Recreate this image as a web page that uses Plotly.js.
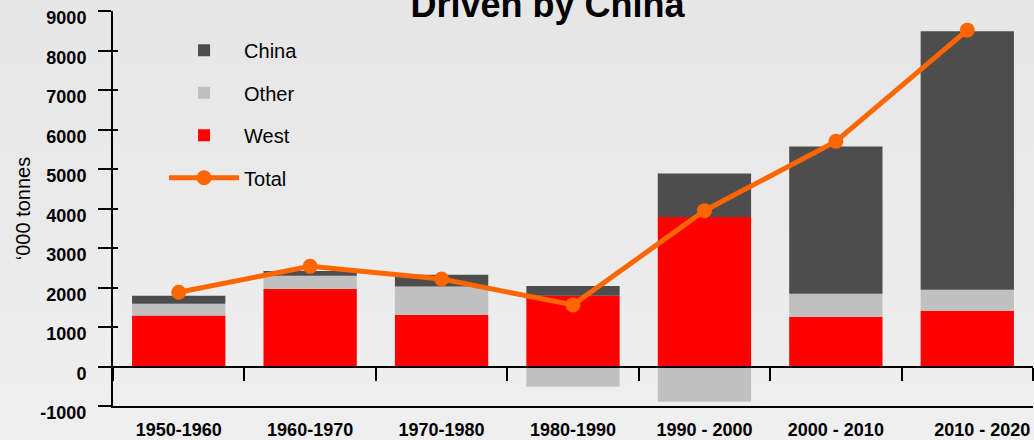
<!DOCTYPE html>
<html>
<head>
<meta charset="utf-8">
<script src="https://cdn.plot.ly/plotly-3.0.1.min.js"></script>
<style>
  html, body { margin: 0; padding: 0; }
  body { width: 1034px; height: 440px; overflow: hidden;
         background: linear-gradient(to bottom, #e6e6e6 0%, #eaeaea 50%, #efefef 100%); }
  #chart { width: 1034px; height: 440px; }
</style>
</head>
<body>
<div id="chart"></div>
<script>
// ---- data ----
const categories = ["1950-1960", "1960-1970", "1970-1980", "1980-1990", "1990 - 2000", "2000 - 2010", "2010 - 2020"];
const tickLabels = ["1950-1960", "1960-1970", "1970-1980", "1980-1990", "1990 - 2000", "2000 - 2010", "\u00a0\u00a0\u00a0\u00a0\u00a0\u00a02010 - 2020"];
const yTickVals = [-1000, 0, 1000, 2000, 3000, 4000, 5000, 6000, 7000, 8000, 9000];
const yTickText = ["-1000", "0", "1000", "2000", "3000", "4000", "5000", "6000", "7000", "8000", "9000"];
const west  = [1290, 1965, 1310, 1790, 3785, 1260, 1410];
const other = [300, 335, 715, -510, -890, 580, 530];
const china = [200, 120, 295, 250, 1100, 3730, 6550];
const total = [1880, 2535, 2215, 1560, 3945, 5700, 8515];

const colors = { china: "#4d4d4d", other: "#c0c0c0", west: "#ff0000", total: "#ff6600" };
const FONT = "Liberation Sans, Arial, Helvetica, sans-serif";

const traces = [
  { type: "bar", name: "West", x: categories, y: west, width: 0.71,
    marker: { color: colors.west }, legendgroup: "w", legendrank: 3 },
  { type: "bar", name: "Other", x: categories, y: other, width: 0.71,
    marker: { color: colors.other }, legendgroup: "o", legendrank: 2 },
  { type: "bar", name: "China", x: categories, y: china, width: 0.71,
    marker: { color: colors.china }, legendgroup: "c", legendrank: 1 },
  { type: "scatter", mode: "lines+markers", name: "Total", x: categories, y: total,
    xaxis: "x2", yaxis: "y2",
    line: { color: colors.total, width: 5 },
    marker: { color: colors.total, size: 15 }, legendgroup: "t", legendrank: 4 }
];

const yRange = [-1000, 9000];

const layout = {
  width: 1034, height: 440,
  paper_bgcolor: "rgba(0,0,0,0)", plot_bgcolor: "rgba(0,0,0,0)",
  margin: { l: 113, r: 1, t: 11, b: 34 },
  barmode: "relative",
  font: { family: FONT, color: "#000" },
  title: { text: "<b>Driven by China</b>", font: { family: FONT, size: 36, color: "#000" },
           xref: "container", yref: "container", x: 0.5295, xanchor: "center",
           y: 0.991, yanchor: "middle" },
  xaxis: { type: "category", categoryarray: categories, range: [-0.5, 6.5],
           tickvals: categories, ticktext: tickLabels,
           showline: true, linecolor: "#000", linewidth: 2, ticks: "",
           ticklabelstandoff: 6,
           showgrid: false, zeroline: false,
           tickfont: { family: FONT, size: 18, color: "#000", weight: "bold" } },
  xaxis2: { type: "category", categoryarray: categories, range: [-0.5, 6.5],
            overlaying: "x", anchor: "free", position: 0.1,
            showline: true, linecolor: "#000", linewidth: 2,
            ticks: "outside", tickson: "boundaries", ticklen: 13, tickwidth: 2, tickcolor: "#000",
            showticklabels: false, showgrid: false, zeroline: false },
  yaxis: { range: yRange, tickmode: "array", tickvals: yTickVals, ticktext: yTickText,
           showline: true, linecolor: "#000", linewidth: 2,
           ticks: "outside", ticklen: 13, tickwidth: 2, tickcolor: "#000",
           ticklabelstandoff: 8, ticklabelshift: 7,
           showgrid: false, zeroline: false,
           tickfont: { family: FONT, size: 18, color: "#000", weight: "bold" },
           title: { text: "\u2018000 tonnes", font: { family: FONT, size: 20, color: "#000" }, standoff: 4 } },
  yaxis2: { range: yRange, tickmode: "array", tickvals: yTickVals, overlaying: "y", side: "left", anchor: "x",
            ticks: "inside", ticklen: 5, tickwidth: 2, tickcolor: "#000",
            showticklabels: false, showgrid: false, zeroline: false, showline: false },
  showlegend: true,
  legend: { x: 0.0555, y: 0.95, xanchor: "left", yanchor: "top",
            bgcolor: "rgba(0,0,0,0)", borderwidth: 0,
            traceorder: "grouped", tracegroupgap: 13.5, itemwidth: 70,
            font: { family: FONT, size: 20, color: "#000" } }
};

Plotly.newPlot("chart", traces, layout, { staticPlot: true, displayModeBar: false });
</script>
</body>
</html>
